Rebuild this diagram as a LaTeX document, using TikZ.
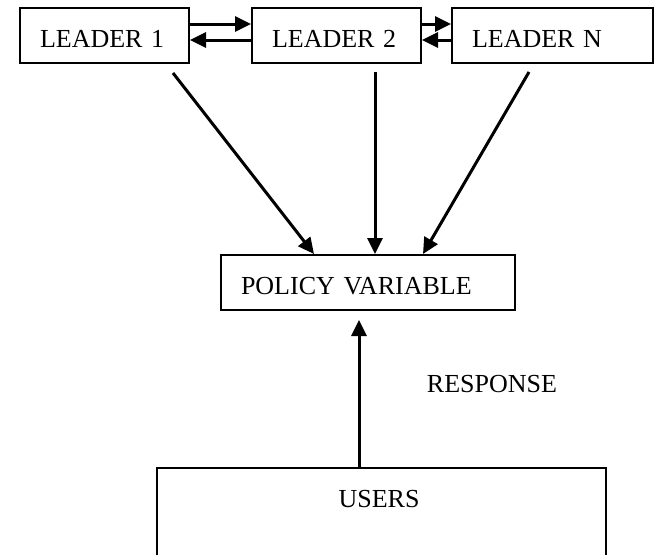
\documentclass[tikz,border=0pt]{standalone}
\usepackage{fontspec}
\setmainfont{Liberation Serif}
\usetikzlibrary{arrows.meta}
\begin{document}
\begin{tikzpicture}[x=1pt,y=-1pt,
  boxnode/.style={draw, line width=2pt, inner xsep=20pt, inner ysep=0pt, align=left,
    text height=24pt, text depth=0pt, minimum height=55pt, anchor=north west,
    font=\fontsize{26}{30}\selectfont},
  arr/.style={line width=3pt, -{Triangle[length=16pt,width=15pt]}},
  lbl/.style={font=\fontsize{26}{30}\selectfont, anchor=base, inner sep=0pt}]
\useasboundingbox (0,0) rectangle (655,555);
% leaders
\node[boxnode, text width=129pt] (L1) at (19,7) {LEADER 1};
\node[boxnode, text width=129pt] (L2) at (251,7) {LEADER 2};
\node[boxnode, text width=161pt] (LN) at (451,7) {LEADER N};
% policy
\node[boxnode, text width=254pt] (P) at (220,254) {POLICY VARIABLE};
% users
\node[draw=none, minimum width=449pt, minimum height=87pt, inner sep=0pt, anchor=north west] (users) at (157,468) {};
\draw[line width=2pt] (users.south west) -- (users.north west) -- (users.north east) -- (users.south east);
\node[lbl] (userstext) at (379,507) {USERS};
\node[lbl] (resp) at (492,392) {RESPONSE};
% leader exchanges
\draw[arr] ([yshift=-17pt]L1.north east) -- ([yshift=-17pt]L2.north west);
\draw[arr] ([yshift=-33pt]L2.north west) -- ([yshift=-33pt]L1.north east);
\draw[arr] ([yshift=-17pt]L2.north east) -- ([yshift=-17pt]LN.north west);
\draw[arr] ([yshift=-33pt]LN.north west) -- ([yshift=-33pt]L2.north east);
% to policy
\coordinate (s1) at (173,73);
\coordinate (s2) at (375,72);
\coordinate (s3) at (529,72);
\draw[arr] (s1) -- ([xshift=-54pt]P.north);
\draw[arr] (s2) -- (s2 |- P.north);
\draw[arr] (s3) -- ([xshift=55pt]P.north);
% response
\coordinate (tip) at (359,320);
\draw[arr] (users.north -| tip) -- (tip);
\end{tikzpicture}
\end{document}
